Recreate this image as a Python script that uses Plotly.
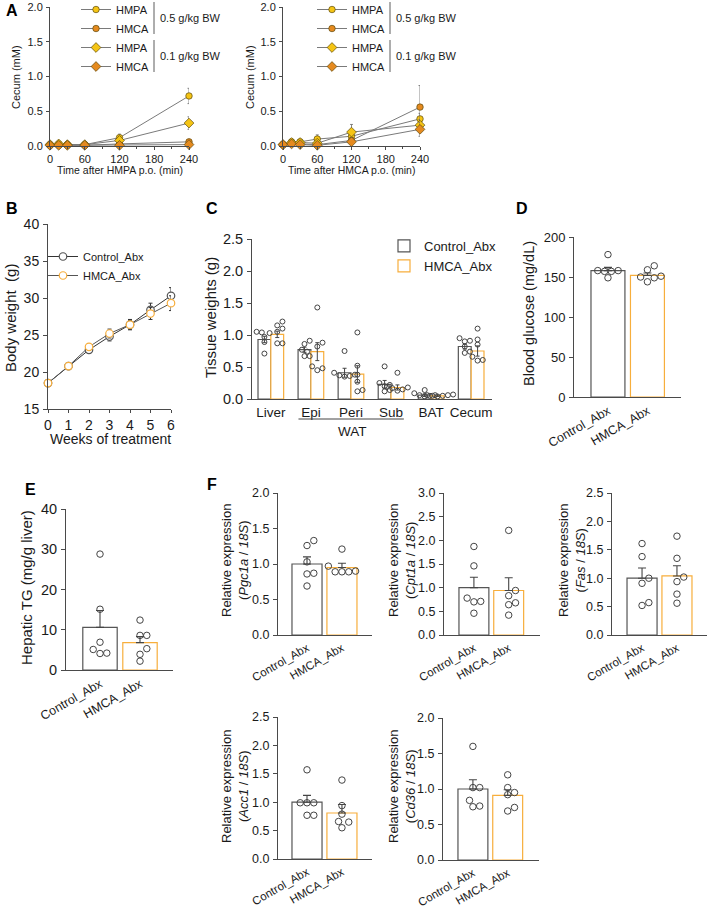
import plotly.graph_objects as go

W, H = 708, 906
FONT = "Arial, Liberation Sans, Helvetica, sans-serif"
AX = '#4a4a4a'
TXT = '#1a1a1a'
YEL = '#F5C414'
ORG = '#E58A1F'
HMCA_C = '#F7AE3C'
GRAY = '#555555'

# ---------------- DATA ----------------
# Panel A
times = [0, 15, 30, 60, 120, 240]
a1_names = ['HMPA', 'HMCA', 'HMPA', 'HMCA']
a1_hmpa05 = [0.02, 0.03, 0.02, 0.02, 0.12, 0.72]
a1_hmpa05_err = [0.01, 0.02, 0.01, 0.01, 0.05, 0.11]
a1_hmca05 = [0.01, 0.01, 0.01, 0.01, 0.03, 0.06]
a1_hmca05_err = [0.00, 0.01, 0.01, 0.00, 0.01, 0.02]
a1_hmpa01 = [0.02, 0.03, 0.02, 0.02, 0.08, 0.33]
a1_hmpa01_err = [0.01, 0.01, 0.01, 0.01, 0.03, 0.09]
a1_hmca01 = [0.01, 0.01, 0.01, 0.01, 0.01, 0.02]
a1_hmca01_err = [0.00, 0.00, 0.00, 0.00, 0.01, 0.01]

a2_hmpa05 = [0.02, 0.06, 0.06, 0.10, 0.14, 0.39]
a2_hmpa05_err = [0.01, 0.02, 0.02, 0.06, 0.05, 0.08]
a2_hmca05 = [0.02, 0.04, 0.03, 0.02, 0.08, 0.56]
a2_hmca05_err = [0.01, 0.02, 0.02, 0.01, 0.03, 0.31]
a2_hmpa01 = [0.02, 0.05, 0.05, 0.04, 0.20, 0.30]
a2_hmpa01_err = [0.01, 0.02, 0.02, 0.02, 0.11, 0.08]
a2_hmca01 = [0.02, 0.03, 0.02, 0.01, 0.06, 0.24]
a2_hmca01_err = [0.01, 0.01, 0.01, 0.01, 0.02, 0.10]
doses = ['0.5 g/kg BW', '0.1 g/kg BW']

# Panel B
weeks = [0, 1, 2, 3, 4, 5, 6]
b_ctrl = [18.5, 20.8, 23.0, 24.8, 26.4, 28.4, 30.3]
b_ctrl_err = [0.2, 0.3, 0.4, 0.6, 0.7, 0.9, 1.1]
b_hmca = [18.5, 20.8, 23.4, 25.2, 26.4, 27.9, 29.3]
b_hmca_err = [0.2, 0.3, 0.4, 0.6, 0.6, 0.8, 1.0]

groups = ['Control_Abx', 'HMCA_Abx']

# Panel C
tissues = ['Liver', 'Epi', 'Peri', 'Sub', 'BAT', 'Cecum']
c_ctrl_mean = [0.93, 0.77, 0.41, 0.23, 0.06, 0.82]
c_ctrl_sem = [0.05, 0.04, 0.07, 0.06, 0.02, 0.04]
c_hmca_mean = [1.01, 0.74, 0.39, 0.18, 0.05, 0.75]
c_hmca_sem = [0.05, 0.14, 0.13, 0.04, 0.01, 0.08]
c_ctrl_pts = [
    [1.05, 1.03, 1.04, 0.97, 0.89, 0.71],
    [0.91, 0.86, 0.77, 0.74, 0.67, 0.67],
    [0.75, 0.41, 0.38, 0.36, 0.35, 0.37],
    [0.51, 0.25, 0.22, 0.14, 0.12, 0.20],
    [0.14, 0.09, 0.06, 0.05, 0.04, 0.06],
    [0.95, 0.91, 0.90, 0.74, 0.72, 0.82],
]
c_hmca_pts = [
    [1.21, 1.15, 1.10, 1.05, 0.87, 0.87],
    [1.43, 0.88, 0.82, 0.51, 0.48, 0.45],
    [1.04, 0.52, 0.38, 0.27, 0.14, 0.12],
    [0.41, 0.18, 0.17, 0.15, 0.13, 0.19],
    [0.07, 0.06, 0.05, 0.04, 0.05, 0.06],
    [1.10, 0.93, 0.85, 0.61, 0.60, 0.66],
]

# Panel D
d_mean = [158, 152]
d_sem = [4, 3]
d_pts = [[178, 158, 157, 158, 157, 149], [164, 159, 151, 150, 149, 144]]

# Panel E
e_mean = [10.6, 6.8]
e_sem = [4.2, 1.5]
e_pts = [[28.8, 15.1, 6.9, 5.1, 4.2, 4.1], [12.4, 8.6, 8.6, 5.3, 3.9, 2.2]]

# Panel F
f_genes = ['Pgc1a', 'Cpt1a', 'Fas', 'Acc1', 'Cd36']
f_mean = [[1.00, 0.95], [1.00, 0.94], [1.00, 1.04], [1.00, 0.81], [1.00, 0.91]]
f_sem = [[0.10, 0.06], [0.22, 0.27], [0.18, 0.18], [0.12, 0.15], [0.13, 0.08]]
f_pts = [
    [[1.33, 1.26, 1.03, 0.87, 0.86, 0.69], [1.21, 0.97, 0.89, 0.89, 0.90, 0.89]],
    [[1.87, 1.46, 0.78, 0.71, 0.70, 0.46], [2.21, 0.94, 0.83, 0.68, 0.64, 0.42]],
    [[1.61, 1.38, 1.00, 0.91, 0.57, 0.52], [1.74, 1.35, 1.02, 0.94, 0.72, 0.56]],
    [[1.57, 0.99, 0.99, 0.99, 0.77, 0.77], [1.39, 0.94, 0.79, 0.66, 0.65, 0.55]],
    [[1.60, 1.02, 1.02, 0.84, 0.75, 0.76], [1.20, 1.02, 0.95, 0.92, 0.74, 0.69]],
]
f_ymax = [2.0, 3.0, 2.5, 2.5, 2.0]
f_dtick = [0.5, 0.5, 0.5, 0.5, 0.5]

# ---------------- FIGURE ----------------
fig = go.Figure()
counter = [0]


def new_axes(pl, pr, pt, pb, xr, yr, xkw=None, ykw=None, fs=11):
    counter[0] += 1
    n = counter[0]
    sx = '' if n == 1 else str(n)
    base = dict(showline=True, linecolor=AX, linewidth=1, ticks='outside', tickcolor=AX,
                ticklen=4, tickwidth=1, showgrid=False, zeroline=False, fixedrange=True,
                automargin=False, ticklabelstandoff=1,
                tickfont=dict(family=FONT, size=fs, color=TXT))
    xa = dict(base, domain=[pl / W, pr / W], range=xr, anchor='y' + sx)
    ya = dict(base, domain=[1 - pb / H, 1 - pt / H], range=yr, anchor='x' + sx)
    if xkw:
        xa.update(xkw)
    if ykw:
        ya.update(ykw)
    fig.update_layout({'xaxis' + sx: xa, 'yaxis' + sx: ya})
    xppu = (pr - pl) / (xr[1] - xr[0])
    yppu = (pb - pt) / (yr[1] - yr[0])
    return 'x' + sx, 'y' + sx, xppu, yppu


def swarm(vals, center, xppu, yppu, d):
    placed = []
    xs = [0.0] * len(vals)
    order = sorted(range(len(vals)), key=lambda i: vals[i])
    step = d * 0.5
    for i in order:
        y = vals[i] * yppu
        k = 0
        while True:
            cands = [0.0] if k == 0 else [k * step, -k * step]
            ok = None
            for c in cands:
                if all(((c - px) ** 2 + (y - py) ** 2) ** 0.5 >= d * 0.98 for px, py in placed):
                    ok = c
                    break
            if ok is not None:
                placed.append((ok, y))
                xs[i] = center + ok / xppu
                break
            k += 1
    return xs


def ann(text, x, y, size=11, angle=0, bold=False, xanchor='center', yanchor='middle'):
    if bold:
        text = '<b>' + text + '</b>'
    fig.add_annotation(text=text, x=x / W, y=1 - y / H, xref='paper', yref='paper',
                       showarrow=False, textangle=angle, xanchor=xanchor, yanchor=yanchor,
                       font=dict(family=FONT, size=size, color=TXT if not bold else '#000'))


# ----- Panel A -----
def panel_a(px0, px1, series, legend_name, legend_x, xtitle, ytitle_x):
    xa, ya, _, _ = new_axes(px0, px1, 7, 146, [0, 240], [0, 2.0],
                            xkw=dict(tickvals=[0, 60, 120, 180, 240], ticklen=3,
                                     ticklabelstandoff=0,
                                     minor=dict(tickvals=[30, 90, 150, 210], ticklen=2,
                                                ticks='outside', tickcolor=AX)),
                            ykw=dict(tickvals=[0, 0.5, 1.0, 1.5, 2.0], tickformat='.1f', ticklen=3),
                            fs=11)
    styles = [('circle', YEL), ('circle', ORG), ('diamond', YEL), ('diamond', ORG)]
    for (vals, err), name, (sym, col) in zip(series, a1_names, styles):
        fig.add_trace(go.Scatter(
            x=times, y=vals, mode='lines+markers', name=name, legend=legend_name,
            xaxis=xa, yaxis=ya, cliponaxis=False,
            line=dict(color='#7a7a7a', width=1),
            marker=dict(symbol=sym, size=6.5 if sym == 'circle' else 7.5, color=col,
                        line=dict(color='#5b4a10', width=0.7)),
            error_y=dict(type='data', array=err, color='#6a6a6a', thickness=0.8, width=1.5)))
    fig.update_layout({legend_name: dict(x=legend_x / W, y=1 + 5 / H, xanchor='left', yanchor='top',
                                         bgcolor='rgba(0,0,0,0)', itemwidth=30,
                                         font=dict(family=FONT, size=11, color=TXT),
                                         tracegroupgap=0)})
    ann(xtitle, (px0 + px1) / 2, 170, size=10.5)
    ann('Cecum (mM)', ytitle_x, 77, size=11, angle=-90)
    return xa


A_LEG = [76, 312]
panel_a(50, 189,
        [(a1_hmpa05, a1_hmpa05_err), (a1_hmca05, a1_hmca05_err),
         (a1_hmpa01, a1_hmpa01_err), (a1_hmca01, a1_hmca01_err)],
        'legend', A_LEG[0], 'Time after HMPA p.o. (min)', 16)
panel_a(283, 420,
        [(a2_hmpa05, a2_hmpa05_err), (a2_hmca05, a2_hmca05_err),
         (a2_hmpa01, a2_hmpa01_err), (a2_hmca01, a2_hmca01_err)],
        'legend2', A_LEG[1], 'Time after HMCA p.o. (min)', 250)

# dose brackets
for lx in A_LEG:
    for k, dose in enumerate(doses):
        top = 0 + k * 38
        fig.add_shape(type='line', xref='paper', yref='paper',
                      x0=(lx + 78) / W, x1=(lx + 78) / W,
                      y0=1 - (top + 2) / H, y1=1 - (top + 34) / H,
                      line=dict(color='#333', width=0.8))
        ann(dose, lx + 82, top + 18, size=11, xanchor='left')

# ----- Panel B -----
xb, yb, _, _ = new_axes(48, 171, 224, 409, [0, 6], [15, 40],
                        xkw=dict(tickvals=weeks, ticklen=3, ticklabelstandoff=0),
                        ykw=dict(tickvals=[15, 20, 25, 30, 35, 40]), fs=14)
for vals, err, name, col in [(b_ctrl, b_ctrl_err, groups[0], '#555555'),
                             (b_hmca, b_hmca_err, groups[1], HMCA_C)]:
    fig.add_trace(go.Scatter(
        x=weeks, y=vals, mode='lines+markers', name=name, legend='legend3',
        xaxis=xb, yaxis=yb, cliponaxis=False,
        line=dict(color='#333333' if col == '#555555' else '#555555', width=1),
        marker=dict(symbol='circle', size=7.5, color='white', line=dict(color=col, width=1.2)),
        error_y=dict(type='data', array=err, color='#333', thickness=1, width=2)))
fig.update_layout(legend3=dict(x=43 / W, y=1 - 242 / H, xanchor='left', yanchor='top',
                               bgcolor='rgba(0,0,0,0)', itemwidth=30,
                               font=dict(family=FONT, size=11, color=TXT)))
ann('Body weight  (g)', 10, 318, size=15, angle=-90)
ann('Weeks of treatment', 110, 439, size=14)

# ----- Panel C -----
xc, yc, cxp, cyp = new_axes(252, 492, 239, 399, [-0.47, 5.52], [0, 2.5],
                            xkw=dict(tickvals=list(range(6)), ticktext=tissues, ticks='',
                                     tickfont=dict(family=FONT, size=13.5, color=TXT)),
                            ykw=dict(tickvals=[0, 0.5, 1.0, 1.5, 2.0, 2.5], tickformat='.1f'), fs=14.5)
bw = 0.32
for g, (means, sems, pts, col) in enumerate([(c_ctrl_mean, c_ctrl_sem, c_ctrl_pts, GRAY),
                                              (c_hmca_mean, c_hmca_sem, c_hmca_pts, HMCA_C)]):
    off = -bw / 2 if g == 0 else bw / 2
    xs = [i + off for i in range(len(tissues))]
    fig.add_trace(go.Bar(x=xs, y=means, width=bw, name=groups[g], legend='legend4',
                         xaxis=xc, yaxis=yc,
                         marker=dict(color='white', line=dict(color=col, width=1.2)),
                         error_y=dict(type='data', array=sems, color='#444', thickness=1, width=2)))
    for i in range(len(tissues)):
        px = swarm(pts[i], xs[i], cxp, cyp, 5.2)
        fig.add_trace(go.Scatter(x=px, y=pts[i], mode='markers', showlegend=False,
                                 xaxis=xc, yaxis=yc, cliponaxis=False,
                                 marker=dict(symbol='circle-open', size=5, color='#444',
                                             line=dict(width=1))))
fig.update_layout(legend4=dict(x=384 / W, y=1 - 231 / H, xanchor='left', yanchor='top',
                               bgcolor='rgba(0,0,0,0)', tracegroupgap=3,
                               font=dict(family=FONT, size=13, color=TXT)))
fig.add_shape(type='line', xref=xc, yref='paper', x0=0.69, x1=3.32,
              y0=1 - 419 / H, y1=1 - 419 / H, line=dict(color='#444', width=1))
ann('WAT', 352, 431, size=13.5)
ann('Tissue weights (g)', 210, 318, size=15, angle=-90)


# ----- two-bar panels -----
def two_bar(pl, pr, pt, pb, xr, ymax, dtick, means, sems, pts, fmt, fs=13, cfs=11.5, d=6.8):
    xa, ya, xp, yp = new_axes(pl, pr, pt, pb, xr, [0, ymax],
                              xkw=dict(tickvals=[0, 1], ticktext=groups, ticks='', tickangle=-30,
                                       tickfont=dict(family=FONT, size=cfs, color=TXT)),
                              ykw=dict(dtick=dtick, tick0=0, tickformat=fmt), fs=fs)
    for g, col in enumerate([GRAY, HMCA_C]):
        fig.add_trace(go.Bar(x=[g], y=[means[g]], width=0.86, showlegend=False,
                             xaxis=xa, yaxis=ya,
                             marker=dict(color='white', line=dict(color=col, width=1.2)),
                             error_y=dict(type='data', array=[sems[g]], arrayminus=[0],
                                          symmetric=False, color='#444', thickness=1.1, width=4)))
        px = swarm(pts[g], g, xp, yp, d)
        fig.add_trace(go.Scatter(x=px, y=pts[g], mode='markers', showlegend=False,
                                 xaxis=xa, yaxis=ya, cliponaxis=False,
                                 marker=dict(symbol='circle-open', size=6.5, color='#444',
                                             line=dict(width=1))))


# D
two_bar(574, 681, 237, 397, [-0.86, 1.85], 200, 50, d_mean, d_sem, d_pts, 'd', fs=13, cfs=12.5)
ann('Blood glucose (mg/dL)', 529, 314, size=14.5, angle=-90)
# E
two_bar(66, 173, 509, 670, [-0.85, 1.825], 40, 10, e_mean, e_sem, e_pts, 'd', fs=14.5, cfs=12.5)
ann('Hepatic TG (mg/g liver)', 26, 588, size=15, angle=-90)

# F
f_boxes = [(278, 372, 493, 635, [-0.83, 1.86]),
           (444, 540, 493, 635, [-0.86, 1.9]),
           (612, 707, 493, 635, [-0.86, 1.86]),
           (278, 372, 717, 859, [-0.83, 1.86]),
           (443, 539, 718, 860, [-0.86, 1.9])]
f_title_pos = [(235, 561), (402, 561), (572, 561), (235, 787), (402, 787)]
for k, gene in enumerate(f_genes):
    pl, pr, pt, pb, xr = f_boxes[k]
    two_bar(pl, pr, pt, pb, xr, f_ymax[k], f_dtick[k], f_mean[k], f_sem[k], f_pts[k], '.1f',
            fs=12.5, cfs=11.5)
    tx, ty = f_title_pos[k]
    ann('Relative expression<br>(<i>%s</i> / <i>18S</i>)' % gene, tx, ty, size=13, angle=-90)

# panel letters
for letter, x, y in [('A', 12, 10), ('B', 12, 209), ('C', 212, 209), ('D', 522, 209),
                     ('E', 30, 489), ('F', 212, 485)]:
    ann(letter, x, y, size=16, bold=True)

fig.update_layout(template='none', width=W, height=H,
                  margin=dict(l=0, r=0, t=0, b=0, autoexpand=False),
                  paper_bgcolor='white', plot_bgcolor='rgba(0,0,0,0)',
                  barmode='overlay', font=dict(family=FONT, color=TXT))
fig.write_html('out.html', config={'displayModeBar': False},
               post_script="document.body.style.margin='0px';document.body.style.overflow='hidden';")
